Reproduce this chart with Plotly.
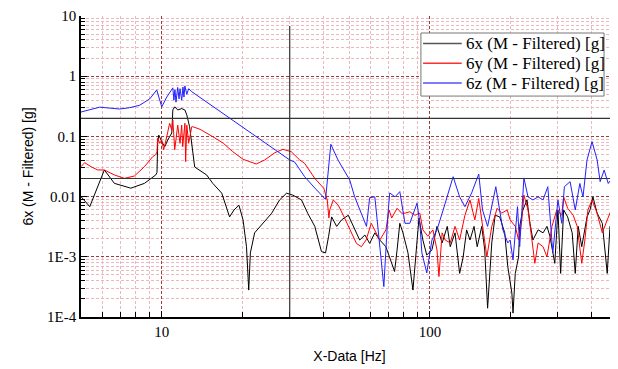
import plotly.graph_objects as go

# ---- data ----
x_black = [5.00, 5.39, 6.11, 6.66, 7.67, 8.62, 9.50, 9.60, 9.66, 9.75, 10.0, 10.26, 10.53, 10.9,
           11.0, 11.18, 11.47, 11.87, 12.2, 12.4, 12.7, 13.27, 14.7, 15.5, 16.74, 17.9, 18.6, 19.4,
           20.1, 20.7, 21.1, 21.4, 22.2, 23.9, 25.7, 27.5, 29.2, 30.8, 32.7, 33.2, 35.0, 37.2, 39.4,
           40.8, 41.9, 43.0, 44.9, 46.8, 49.6, 51.7, 54.7, 57.2, 59.6, 62.3, 65.0, 68.5, 70.8, 73.8,
           75.4, 77.2, 79.3, 80.7, 82.8, 86.4, 89.5, 91.0, 94.1, 97.3, 101.7, 106.2, 111, 116, 119,
           124, 129, 133, 137, 141, 146, 150, 156, 160, 164, 170, 175, 182, 190, 195, 202, 204, 208,
           214, 216, 222, 230, 236, 242, 253, 264, 273, 280, 292, 300, 307, 315, 326, 339, 348, 357,
           368, 385, 395, 405, 420, 439, 458, 469, 482, 498]
y_black = [0.0100, 0.0068, 0.0277, 0.0166, 0.0138, 0.0166, 0.0229, 0.025, 0.08, 0.105, 0.082, 0.067,
           0.087, 0.114, 0.275, 0.31, 0.275, 0.29, 0.274, 0.227, 0.145, 0.031, 0.0229, 0.0166,
           0.0114, 0.0046, 0.006, 0.0072, 0.0041, 0.00147, 0.00028, 0.00116, 0.0025, 0.0036, 0.0053,
           0.0088, 0.0114, 0.0106, 0.0093, 0.0088, 0.0053, 0.0032, 0.00122, 0.00116, 0.0022, 0.0046,
           0.0032, 0.0041, 0.0049, 0.0032, 0.0019, 0.0023, 0.00167, 0.0025, 0.0019, 0.00147, 0.001,
           0.00057, 0.0013, 0.0036, 0.0025, 0.0019, 0.00116, 0.00028, 0.0019, 0.0044, 0.0019,
           0.00107, 0.0013, 0.0032, 0.0017, 0.0032, 0.00147, 0.0025, 0.00053, 0.001, 0.0028, 0.0019,
           0.0032, 0.00147, 0.0032, 0.0013, 0.00014, 0.0017, 0.0049, 0.0046, 0.0025, 0.00069,
           0.00025, 0.000116, 0.00053, 0.001, 0.0032, 0.006, 0.0088, 0.0036, 0.0019, 0.0028, 0.0025,
           0.0032, 0.0022, 0.00078, 0.006, 0.00053, 0.006, 0.0046, 0.0025, 0.00053, 0.0032, 0.00147,
           0.0046, 0.006, 0.0099, 0.0053, 0.0036, 0.00053, 0.0032, 0.0025, 0.00107]

x_red = [5.00, 5.16, 5.45, 5.77, 6.11, 6.66, 7.26, 7.91, 8.62, 9.25, 9.50, 9.60, 9.66, 9.83, 10.0,
         10.17, 10.44, 10.7, 10.9, 11.0, 11.18, 11.37, 11.47, 11.7, 11.87, 11.97, 12.2, 12.28, 12.4,
         12.6, 12.94, 13.05, 13.9, 15.5, 16.98, 18.4, 20.1, 22.5, 24.2, 26.4, 28.3, 30.4, 32.7, 34.1,
         37.2, 40.2, 41.4, 42.0, 42.3, 43.6, 45.5, 47.5, 49.6, 51.0, 53.2, 55.5, 57.8, 60.4, 63.1,
         65.0, 68.5, 70.4, 72.0, 75.4, 78.4, 80.7, 84.1, 87.9, 91.7, 94.1, 98.2, 102.6, 106.2, 108.0,
         111, 114, 119, 124, 129, 135, 141, 147, 152, 157, 163, 170, 178, 185, 194, 199, 208, 214,
         220, 224, 232, 240, 246, 253, 264, 273, 285, 297, 310, 315, 326, 342, 354, 368, 378, 388,
         402, 420, 439, 458, 477, 490, 502]
y_red = [0.0314, 0.0366, 0.0314, 0.0277, 0.0277, 0.0229, 0.0201, 0.022, 0.0314, 0.046, 0.05, 0.055,
         0.094, 0.0768, 0.0871, 0.0598, 0.0989, 0.165, 0.1275, 0.187, 0.06, 0.112, 0.154, 0.0768,
         0.154, 0.0675, 0.165, 0.038, 0.154, 0.0768, 0.145, 0.145, 0.131, 0.0989, 0.0768, 0.0557,
         0.0417, 0.0348, 0.0406, 0.0536, 0.061, 0.0557, 0.0406, 0.0357, 0.0201, 0.0137, 0.0088,
         0.0044, 0.006, 0.0088, 0.0072, 0.0049, 0.0032, 0.0025, 0.00167, 0.00147, 0.0019, 0.0036,
         0.0025, 0.0019, 0.0028, 0.006, 0.0044, 0.0064, 0.0053, 0.0053, 0.0056, 0.0049, 0.0053,
         0.0028, 0.0022, 0.0028, 0.0013, 0.00047, 0.0025, 0.0019, 0.0017, 0.0032, 0.0019, 0.0049,
         0.0088, 0.0041, 0.0093, 0.0032, 0.001, 0.0032, 0.0064, 0.0053, 0.006, 0.0041, 0.0032,
         0.0019, 0.0041, 0.0106, 0.006, 0.0019, 0.00078, 0.0017, 0.00147, 0.001, 0.0032, 0.006,
         0.0049, 0.0099, 0.0064, 0.0049, 0.0032, 0.00078, 0.0019, 0.006, 0.0088, 0.0053, 0.0025,
         0.0041, 0.0064, 0.0025, 0.0022]

x_blue = [5.00, 5.87, 6.97, 7.6, 8.28, 9.02, 9.58, 10.0, 10.44, 11.0, 11.1, 11.2, 11.3, 11.47, 11.6,
          11.7, 11.87, 12.0, 12.1, 12.2, 12.4, 12.6, 12.94, 30.0, 31.3, 34.1, 37.2, 40.8, 42.7, 45.4,
          50.2, 52.4, 58.0, 59.6, 62.3, 63.8, 67.3, 69.6, 70.8, 74.1, 77.2, 80.7, 84.1, 89.5, 91.7,
          93.3, 97.3, 101.7, 106.2, 112, 117, 122, 129, 135, 143, 152, 157, 164, 176, 187, 195, 199,
          204, 212, 216, 224, 232, 242, 253, 264, 275, 287, 300, 310, 317, 333, 348, 362, 372, 385,
          402, 420, 431, 446, 462, 482, 502]
y_blue = [0.254, 0.306, 0.285, 0.30, 0.33, 0.42, 0.59, 0.31, 0.45, 0.64, 0.40, 0.60, 0.37, 0.65,
          0.42, 0.62, 0.40, 0.66, 0.45, 0.69, 0.50, 0.62, 0.553, 0.0406, 0.0375, 0.0214, 0.0139,
          0.009, 0.074, 0.0406, 0.0189, 0.0099, 0.0032, 0.0096, 0.0099, 0.0032, 0.00032, 0.0046,
          0.0115, 0.0099, 0.0121, 0.0036, 0.0036, 0.0078, 0.0036, 0.00116, 0.00054, 0.0019, 0.0028,
          0.006, 0.0115, 0.0214, 0.0099, 0.0068, 0.0115, 0.0237, 0.006, 0.0032, 0.0146, 0.0028,
          0.0017, 0.0019, 0.00089, 0.0068, 0.00147, 0.0204, 0.0099, 0.0088, 0.0099, 0.0088, 0.0146,
          0.00116, 0.0088, 0.0036, 0.0146, 0.0177, 0.006, 0.0165, 0.0099, 0.0406, 0.082, 0.0406,
          0.0177, 0.0275, 0.0165, 0.0214, 0.0105]

names = ["6x (M - Filtered) [g]", "6y (M - Filtered) [g]", "6z (M - Filtered) [g]"]
colors = ["#000000", "#ff0000", "#2020ff"]
legend_colors = ["#555555", "#ff3030", "#5050ff"]

limit_x = [30]          # vertical reference line (Hz)
limit_x_top = 6.8       # where the vertical reference line ends (g)
limit_y = [0.2, 0.02]   # horizontal reference lines (g)

y_tickvals = [1e-4, 1e-3, 0.01, 0.1, 1, 10]
y_ticktext = ["1E-4", "1E-3", "0.01", "0.1", "1", "10"]
x_tickvals = [10, 100]
x_ticktext = ["10", "100"]

# ---- figure ----
fig = go.Figure()
for xs, ys, nm, col in zip([x_black, x_red, x_blue], [y_black, y_red, y_blue], names, colors):
    fig.add_trace(go.Scatter(x=xs, y=ys, mode="lines", name=nm, showlegend=False,
                             line=dict(color=col, width=1)))

for xv in limit_x:
    fig.add_shape(type="line", xref="x", yref="y", x0=xv, x1=xv, y0=1e-4, y1=limit_x_top,
                  line=dict(color="#333333", width=1.2))
for yv in limit_y:
    fig.add_hline(y=yv, line=dict(color="#333333", width=1.2))

minor_x = [k * 10 ** e for e in range(0, 3) for k in range(2, 10)]
minor_y = [k * 10 ** e for e in range(-4, 1) for k in range(2, 10)]

serif = "Liberation Serif, Times New Roman, serif"
sans = "Liberation Sans, Arial, sans-serif"

axis_common = dict(
    type="log", showline=True, linecolor="black", linewidth=1.5, mirror=False,
    ticks="inside", ticklen=6, tickwidth=1, tickcolor="black",
    showgrid=True, gridcolor="#a03a3a", griddash="3px,2px", gridwidth=1,
    zeroline=False, tickfont=dict(family=serif, size=15, color="black"),
)

fig.update_xaxes(
    **axis_common,
    range=[0.699, 2.701],
    tickmode="array", tickvals=x_tickvals, ticktext=x_ticktext,
    minor=dict(tickmode="array", tickvals=minor_x, ticks="inside", ticklen=5,
               tickcolor="black", showgrid=True, gridcolor="#eab8bd",
               griddash="3px,2px", gridwidth=1),
    title=dict(text="X-Data [Hz]", font=dict(family=sans, size=14, color="black"), standoff=12),
)
fig.update_yaxes(
    **axis_common,
    range=[-4, 1],
    tickmode="array", tickvals=y_tickvals, ticktext=y_ticktext,
    minor=dict(tickmode="array", tickvals=minor_y, ticks="inside", ticklen=4,
               tickcolor="black", showgrid=True, gridcolor="#eab8bd",
               griddash="3px,2px", gridwidth=1),
    title=dict(text="6x (M - Filtered) [g]", font=dict(family=sans, size=14, color="black"), standoff=10),
)

# ---- legend box (drawn in paper coordinates to match the compact original) ----
lg_left, lg_right, lg_top, lg_bottom = 0.633, 0.974, 0.9435, 0.734
row_y = [0.909, 0.843, 0.777]
fig.add_shape(type="rect", xref="paper", yref="paper", x0=lg_left, x1=lg_right,
              y0=lg_bottom, y1=lg_top, fillcolor="white", line=dict(color="#777777", width=1),
              layer="above")
for ry, nm, col in zip(row_y, names, legend_colors):
    fig.add_shape(type="line", xref="paper", yref="paper", x0=0.637, x1=0.709, y0=ry, y1=ry,
                  line=dict(color=col, width=1.5), layer="above")
    fig.add_annotation(xref="paper", yref="paper", x=0.714, y=ry, xanchor="left",
                       yanchor="middle", text=nm, showarrow=False,
                       font=dict(family=serif, size=17, color="black"))

fig.update_layout(
    width=610, height=361,
    margin=dict(l=73, r=0, t=8, b=52),
    paper_bgcolor="white", plot_bgcolor="white",
    showlegend=False,
)

fig.write_html("out.html")
